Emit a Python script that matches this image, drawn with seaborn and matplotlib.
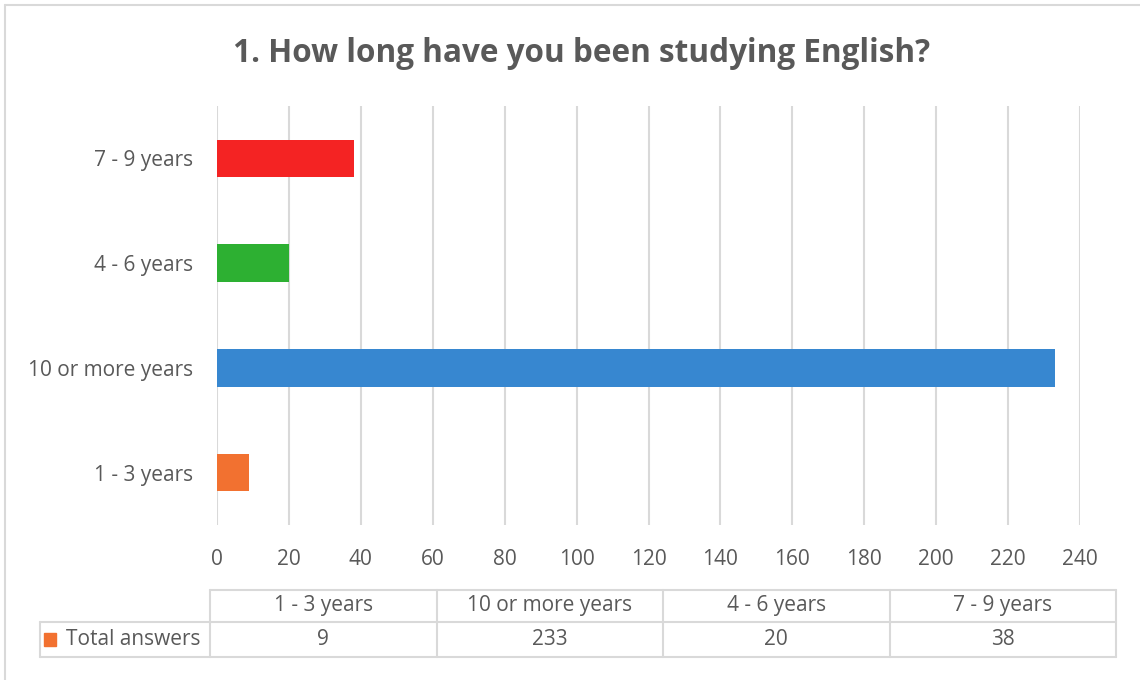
import numpy as np
import pandas as pd
import matplotlib
matplotlib.use('Agg')
import matplotlib.pyplot as plt
import seaborn as sns
from matplotlib.lines import Line2D
from matplotlib.patches import Rectangle

categories = ['1 - 3 years', '10 or more years', '4 - 6 years', '7 - 9 years']
answers = [9, 233, 20, 38]
colors = ['#F27130', '#3787D0', '#2DB032', '#F42323']
x_ticks = list(range(0, 241, 20))
series_name = 'Total answers'
title = '1. How long have you been studying English?'

df = pd.DataFrame({'category': categories, 'answers': answers})
palette = dict(zip(categories, colors))

sns.set_style('white')
plt.rcParams['font.family'] = ['Open Sans', 'DejaVu Sans']
txt = '#595959'
grid = '#D9D9D9'

W, H = 1140, 680
fig = plt.figure(figsize=(W / 100, H / 100), dpi=100)


def px(x, y):
    return x / W, 1 - y / H


ax = fig.add_axes([217 / W, 1 - 525 / H, (1080 - 217) / W, (525 - 106) / H])
sns.barplot(data=df, x='answers', y='category', hue='category', palette=palette,
            order=categories[::-1], width=0.36, legend=False, saturation=1,
            linewidth=0, ax=ax)
ax.set_xlim(0, 240)
ax.set_xticks(x_ticks)
ax.set_xlabel('')
ax.set_ylabel('')
ax.grid(axis='x', color=grid, linewidth=1.5)
ax.set_axisbelow(True)
for s in ax.spines.values():
    s.set_visible(False)
ax.tick_params(axis='x', length=0, pad=17, labelsize=15, labelcolor=txt)
ax.tick_params(axis='y', length=0, pad=17, labelsize=15, labelcolor=txt)

fig.text(*px(582, 53), title, ha='center', va='center', fontsize=22.7,
         fontweight='bold', color=txt)

# outer chart border
fig.add_artist(Line2D([5 / W, 5 / W], [0, px(0, 5)[1]], color=grid, lw=1.5))
fig.add_artist(Line2D([5 / W, 1], [px(0, 5)[1]] * 2, color=grid, lw=1.5))

# data table under the chart
col_edges = np.linspace(210, 1116, len(categories) + 1)
y_top, y_mid, y_bot = 590, 622, 657
fig.add_artist(Line2D([210 / W, 1116 / W], [px(0, y_top)[1]] * 2, color=grid, lw=1.5))
for yy in (y_mid, y_bot):
    fig.add_artist(Line2D([40 / W, 1116 / W], [px(0, yy)[1]] * 2, color=grid, lw=1.5))
for xx in col_edges:
    fig.add_artist(Line2D([xx / W] * 2, [px(0, y_top)[1], px(0, y_bot)[1]], color=grid, lw=1.5))
fig.add_artist(Line2D([40 / W] * 2, [px(0, y_mid)[1], px(0, y_bot)[1]], color=grid, lw=1.5))

for i, (cat, val) in enumerate(zip(categories, answers)):
    cx = (col_edges[i] + col_edges[i + 1]) / 2
    fig.text(*px(cx, (y_top + y_mid) / 2), cat, ha='center', va='center',
             fontsize=15, color=txt)
    fig.text(*px(cx, (y_mid + y_bot) / 2), str(val), ha='center', va='center',
             fontsize=15, color=txt)

fig.add_artist(Rectangle(px(44, 646), 12 / W, 13 / H, color=colors[0]))
fig.text(*px(66, (y_mid + y_bot) / 2), series_name, ha='left', va='center',
         fontsize=15, color=txt)

fig.savefig('out.png', dpi=100)
